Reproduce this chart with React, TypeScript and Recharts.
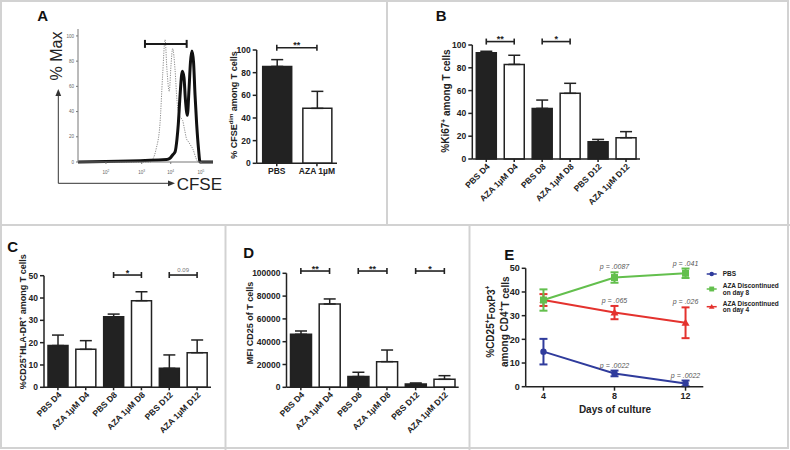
import React from "react";
import {
  Bar,
  BarChart,
  Cell,
  ErrorBar,
  Line,
  LineChart,
  ReferenceDot,
  ReferenceLine,
  XAxis,
  YAxis,
} from "recharts";

const FONT = "'Liberation Sans', Arial, Helvetica, sans-serif";
const INK = "#222";
const RULE = "#d2d2d2";
const BLUE = "#2f3b9c";
const GREEN = "#63bf4d";
const RED = "#e4322e";

// A: CFSE overlay, x in display channels (0..1000 over the biexponential axis), y in % of max
const histTickCh = [72, 207, 472, 687, 911];
const histTickExp = [0, 2, 3, 4, 5];
const pbsCurveCh = [0, 533, 553, 578, 607, 627, 645, 659, 676, 689, 701, 719, 733, 750, 763, 775, 789, 805, 819, 830, 852, 874, 891, 1000];
const pbsCurvePct = [0, 0, 2, 10, 30, 69, 97, 73, 56, 77, 90, 73, 49, 37, 35, 33, 26, 18, 16, 14, 10, 3, 0, 0];
const azaCurveCh = [0, 657, 681, 704, 719, 733, 743, 756, 773, 785, 796, 810, 822, 833, 844, 856, 867, 879, 893, 904, 1000];
const azaCurvePct = [0, 2, 3, 6, 8, 18, 30, 53, 72, 67, 49, 37, 57, 79, 88, 79, 53, 30, 10, 0, 0];
const gateCh = [496, 805];
const gatePct = 93.7;

// A: CFSE dim bars
const cfseGroups = ["PBS", "AZA 1µM"];
const cfseDim = [85.5, 48.5];
const cfseDimErr = [6, 15];

// B, C, D
const dayGroups = ["PBS D4", "AZA 1µM D4", "PBS D8", "AZA 1µM D8", "PBS D12", "AZA 1µM D12"];
const ki67 = [93.2, 83, 44.4, 57.6, 15.2, 18.7];
const ki67Err = [1.3, 8, 7.3, 8.8, 2, 5.3];
const hlaDr = [18.7, 17, 31.6, 38.8, 8.5, 15.5];
const hlaDrErr = [4.7, 3.9, 1.2, 4, 6, 5.7];
const cd25Mfi = [46500, 73100, 9400, 22500, 2900, 7000];
const cd25MfiErr = [2900, 4400, 3800, 10200, 900, 3200];

type Sig = { from: string; to: string; text: string };
const cfseSig: Sig[] = [{ from: "PBS", to: "AZA 1µM", text: "**" }];
const ki67Sig: Sig[] = [
  { from: "PBS D4", to: "AZA 1µM D4", text: "**" },
  { from: "PBS D8", to: "AZA 1µM D8", text: "*" },
];
const hlaDrSig: Sig[] = [
  { from: "PBS D8", to: "AZA 1µM D8", text: "*" },
  { from: "PBS D12", to: "AZA 1µM D12", text: "0.09" },
];
const cd25Sig: Sig[] = [
  { from: "PBS D4", to: "AZA 1µM D4", text: "**" },
  { from: "PBS D8", to: "AZA 1µM D8", text: "**" },
  { from: "PBS D12", to: "AZA 1µM D12", text: "*" },
];

// E
const cultureDays = [4, 8, 12];
const foxPbs = [14.8, 5.6, 1.4];
const foxPbsErr = [5.4, 1.2, 1.2];
const foxPbsP = ["", "p = .0022", "p = .0022"];
const foxAza8 = [36.6, 46.1, 47.9];
const foxAza8Err = [4.5, 2.2, 2];
const foxAza8P = ["", "p = .0087", "p = .041"];
const foxAza4 = [36.6, 31.3, 27];
const foxAza4Err = [2.5, 2.8, 6.5];
const foxAza4P = ["", "p = .065", "p = .026"];

const foxSeries = [
  { key: "pbs", name: ["PBS"], color: BLUE, mark: "circle", mean: foxPbs, err: foxPbsErr, p: foxPbsP },
  { key: "aza8", name: ["AZA Discontinued", "on day 8"], color: GREEN, mark: "square", mean: foxAza8, err: foxAza8Err, p: foxAza8P },
  { key: "aza4", name: ["AZA Discontinued", "on day 4"], color: RED, mark: "triangle", mean: foxAza4, err: foxAza4Err, p: foxAza4P },
];

const boldTick = { fontFamily: FONT, fontSize: 8.5, fontWeight: 700, fill: INK };

function Marker({ kind, cx, cy, color, s = 1 }: any) {
  if (kind === "square") return <rect x={cx - 3.5 * s} y={cy - 3.5 * s} width={7 * s} height={7 * s} fill={color} />;
  if (kind === "triangle")
    return <polygon points={`${cx},${cy - 4 * s} ${cx - 4 * s},${cy + 3 * s} ${cx + 4 * s},${cy + 3 * s}`} fill={color} />;
  return <circle cx={cx} cy={cy} r={3.2 * s} fill={color} />;
}

function bracket(text: string) {
  return (p: any) => {
    const { x1, y1, x2 } = p;
    const small = /\d/.test(text);
    return (
      <g>
        <line x1={x1} y1={y1} x2={x2} y2={y1} stroke={INK} strokeWidth={1.6} />
        <line x1={x1} y1={y1 - 3} x2={x1} y2={y1 + 3} stroke={INK} strokeWidth={1.6} />
        <line x1={x2} y1={y1 - 3} x2={x2} y2={y1 + 3} stroke={INK} strokeWidth={1.6} />
        <text
          x={(x1 + x2) / 2}
          y={small ? y1 - 3.5 : y1 + 0.5}
          textAnchor="middle"
          fontFamily={FONT}
          fontSize={small ? 6 : 9}
          fontWeight={small ? 400 : 700}
          fill={small ? "#777" : INK}
        >
          {text}
        </text>
      </g>
    );
  };
}

function SlantTick({ x, y, payload }: any) {
  return (
    <g transform={`translate(${x + 2},${y + 1}) rotate(-45)`}>
      <text textAnchor="end" dy="0.35em" {...boldTick}>
        {payload.value}
      </text>
    </g>
  );
}

function BarPanel({ left, top, width, height, margin, yWidth, cats, means, errs, domain, ticks, sig, sigY, barSize, slanted }: any) {
  const rows = cats.map((c: string, i: number) => ({ cat: c, v: means[i], e: [0, errs[i]] }));
  return (
    <div style={{ position: "absolute", left, top }}>
      <BarChart width={width} height={height} data={rows} margin={margin}>
        <XAxis
          dataKey="cat"
          interval={0}
          tickSize={3}
          height={slanted ? 50 : 16}
          stroke={INK}
          strokeWidth={1.5}
          tick={slanted ? <SlantTick /> : boldTick}
        />
        <YAxis domain={domain} ticks={ticks} interval={0} width={yWidth} tickSize={4} stroke={INK} strokeWidth={1.5} tick={boldTick} />
        <Bar dataKey="v" barSize={barSize} stroke={INK} strokeWidth={1.5} isAnimationActive={false}>
          {rows.map((r: any) => (
            <Cell key={r.cat} fill={r.cat.startsWith("PBS") ? INK : "#fff"} />
          ))}
          <ErrorBar dataKey="e" width={6} stroke={INK} strokeWidth={1.5} direction="y" isAnimationActive={false} />
        </Bar>
        {sig.map((s: Sig) => (
          <ReferenceLine
            key={s.from}
            segment={[
              { x: s.from, y: sigY },
              { x: s.to, y: sigY },
            ]}
            ifOverflow="visible"
            shape={bracket(s.text)}
          />
        ))}
      </BarChart>
    </div>
  );
}

function HistTick({ x, y, payload }: any) {
  const exp = histTickExp[histTickCh.indexOf(payload.value)];
  return (
    <text x={x} y={y + 8} textAnchor="middle" fontFamily={FONT} fontSize={4.5} fill="#666">
      {exp ? (
        <>
          10
          <tspan dy={-2} fontSize={3.2}>
            {exp}
          </tspan>
        </>
      ) : (
        "0"
      )}
    </text>
  );
}

const gateShape = (p: any) => (
  <g stroke="#1a1a1a" strokeWidth={2}>
    <line x1={p.x1} y1={p.y1} x2={p.x2} y2={p.y1} />
    <line x1={p.x1} y1={p.y1 - 4} x2={p.x1} y2={p.y1 + 4} />
    <line x1={p.x2} y1={p.y1 - 4} x2={p.x2} y2={p.y1 + 4} />
  </g>
);

function CfseHistogram() {
  const pbs = pbsCurveCh.map((ch, i) => ({ ch, pct: pbsCurvePct[i] }));
  const aza = azaCurveCh.map((ch, i) => ({ ch, pct: azaCurvePct[i] }));
  return (
    <div style={{ position: "absolute", left: 0, top: 0 }}>
      <LineChart width={230} height={200} margin={{ top: 29, right: 17, bottom: 26, left: 58 }}>
        <XAxis type="number" dataKey="ch" domain={[0, 1000]} ticks={histTickCh} tick={<HistTick />} height={12} tickSize={2} stroke="#777" />
        <XAxis xAxisId="box" orientation="top" type="number" domain={[0, 1000]} tick={false} tickLine={false} height={0} stroke="#777" />
        <YAxis
          type="number"
          domain={[0, 105.5]}
          ticks={[0, 20, 40, 60, 80, 100]}
          interval={0}
          width={20}
          tickSize={2}
          stroke="#777"
          tick={{ fontSize: 4.5, fill: "#666", fontFamily: FONT }}
        />
        <YAxis yAxisId="box" orientation="right" type="number" domain={[0, 1]} tick={false} tickLine={false} width={0} stroke="#777" />
        <Line data={pbs} dataKey="pct" type="monotone" stroke="#8c8c8c" strokeWidth={1} strokeDasharray="1.2 1.2" dot={false} activeDot={false} isAnimationActive={false} />
        <Line data={aza} dataKey="pct" type="monotone" stroke="#111" strokeWidth={3} dot={false} activeDot={false} isAnimationActive={false} />
        <ReferenceLine
          segment={[
            { x: gateCh[0], y: gatePct },
            { x: gateCh[1], y: gatePct },
          ]}
          ifOverflow="visible"
          shape={gateShape}
        />
      </LineChart>
    </div>
  );
}

function FoxP3Chart() {
  const rows = cultureDays.map((d, i) => {
    const r: any = { day: d };
    foxSeries.forEach((s) => {
      r[s.key] = s.mean[i];
      r[s.key + "E"] = s.err[i];
    });
    return r;
  });
  const drawOrder = [foxSeries[0], foxSeries[2], foxSeries[1]];
  return (
    <div style={{ position: "absolute", left: 470, top: 225 }}>
      <LineChart width={320} height={225} data={rows} margin={{ top: 43.3, right: 86.7, bottom: 43.3, left: 30.7 }}>
        <XAxis type="number" dataKey="day" domain={[3, 13]} ticks={cultureDays} interval={0} height={20} tickSize={4} stroke={INK} strokeWidth={1.5} tick={{ ...boldTick, fontSize: 9 }} />
        <YAxis domain={[0, 50]} ticks={[0, 10, 20, 30, 40, 50]} interval={0} width={25} tickSize={4} stroke={INK} strokeWidth={1.5} tick={{ ...boldTick, fontSize: 9 }} />
        {drawOrder.map((s) => (
          <Line
            key={s.key}
            dataKey={s.key}
            type="linear"
            stroke={s.color}
            strokeWidth={2}
            dot={(p: any) => <Marker key={`${s.key}-${p.index}`} kind={s.mark} cx={p.cx} cy={p.cy} color={s.color} />}
            activeDot={false}
            isAnimationActive={false}
          >
            <ErrorBar dataKey={s.key + "E"} width={4} stroke={s.color} strokeWidth={2} direction="y" isAnimationActive={false} />
          </Line>
        ))}
        {foxSeries.flatMap((s) =>
          s.p.map((t, i) =>
            t ? (
              <ReferenceDot
                key={`${s.key}-p${i}`}
                x={cultureDays[i]}
                y={s.mean[i] + s.err[i]}
                r={2}
                ifOverflow="visible"
                shape={(p: any) => (
                  <text x={p.cx} y={p.cy - 3} textAnchor="middle" fontFamily={FONT} fontSize={7} fontStyle="italic" fill="#555" stroke="none">
                    {t}
                  </text>
                )}
              />
            ) : null
          )
        )}
      </LineChart>
    </div>
  );
}

function RotText({ x, y, size, weight = 700, children }: any) {
  return (
    <text
      x={x}
      y={y}
      transform={`rotate(-90 ${x} ${y})`}
      textAnchor="middle"
      dominantBaseline="central"
      fontSize={size}
      fontWeight={weight}
      fill={INK}
      fontFamily={FONT}
    >
      {children}
    </text>
  );
}

function Overlay() {
  const letter = { fontFamily: FONT, fontSize: 15, fontWeight: 700, fill: "#111" };
  const legendY = [274, 289, 306.7];
  return (
    <svg width={790} height={450} style={{ position: "absolute", left: 0, top: 0, pointerEvents: "none" }}>
      <g stroke={RULE} strokeWidth={2} fill="none">
        <rect x={1} y={1} width={787} height={447} />
        <line x1={387} y1={0} x2={387} y2={225} />
        <line x1={0} y1={225} x2={790} y2={225} />
        <line x1={225.5} y1={225} x2={225.5} y2={450} />
        <line x1={469.5} y1={225} x2={469.5} y2={450} />
      </g>

      <text x={37.3} y={20.7} {...letter}>A</text>
      <text x={435.7} y={20.7} {...letter}>B</text>
      <text x={7.3} y={251.7} {...letter}>C</text>
      <text x={243.3} y={258.3} {...letter}>D</text>
      <text x={504.3} y={260} {...letter}>E</text>

      {/* histogram axis arrows */}
      <g stroke="#333" strokeWidth={1} fill="#333">
        <line x1={58.3} y1={183.3} x2={58.3} y2={94} />
        <polygon points="58.3,89 55.4,96 61.2,96" stroke="none" />
        <line x1={58.3} y1={183.3} x2={170} y2={183.3} />
        <polygon points="175,183.3 168,180.4 168,186.2" stroke="none" />
      </g>
      <RotText x={56} y={56} size={16} weight={400}>% Max</RotText>
      <text x={176.7} y={184.3} dominantBaseline="central" fontFamily={FONT} fontSize={17} fill={INK}>CFSE</text>

      <RotText x={234} y={105} size={9}>
        % CFSE<tspan dy={-3} fontSize={6}>dim</tspan><tspan dy={3}> among T cells</tspan>
      </RotText>
      <RotText x={445.5} y={101} size={10}>
        %Ki67<tspan dy={-3} fontSize={6.5}>+</tspan><tspan dy={3}> among T cells</tspan>
      </RotText>
      <RotText x={23.3} y={321.7} size={9}>
        %CD25<tspan dy={-3} fontSize={6}>+</tspan><tspan dy={3}>HLA-DR</tspan><tspan dy={-3} fontSize={6}>+</tspan><tspan dy={3}> among T cells</tspan>
      </RotText>
      <RotText x={249.7} y={323} size={9}>MFI CD25 of T cells</RotText>
      <RotText x={490.7} y={321.7} size={10}>
        %CD25<tspan dy={-3.5} fontSize={6.5}>+</tspan><tspan dy={3.5}>FoxP3</tspan><tspan dy={-3.5} fontSize={6.5}>+</tspan>
      </RotText>
      <RotText x={505} y={321.7} size={10}>
        among CD4<tspan dy={-3.5} fontSize={6.5}>+</tspan><tspan dy={3.5}>T cells</tspan>
      </RotText>
      <text x={615} y={409.3} textAnchor="middle" dominantBaseline="central" fontFamily={FONT} fontSize={10} fontWeight={700} fill={INK}>
        Days of culture
      </text>

      {foxSeries.map((s, i) => {
        const y = legendY[i];
        return (
          <g key={s.key}>
            <line x1={706.7} x2={716.7} y1={y} y2={y} stroke={s.color} strokeWidth={1.5} />
            <Marker kind={s.mark} cx={711.7} cy={y} color={s.color} s={0.7} />
            {s.name.map((ln, j) => (
              <text
                key={ln + j}
                x={722.7}
                y={y + 2.2 + (j - (s.name.length - 1) / 2) * 6.6}
                fontFamily={FONT}
                fontSize={6.5}
                fontWeight={700}
                fill={INK}
              >
                {ln}
              </text>
            ))}
          </g>
        );
      })}
    </svg>
  );
}

export default function App() {
  return (
    <div style={{ position: "absolute", left: 0, top: 0, width: 790, height: 450, background: "#fff", fontFamily: FONT, overflow: "hidden" }}>
      <CfseHistogram />
      <BarPanel
        left={200}
        top={0}
        width={150}
        height={200}
        margin={{ top: 50, right: 13, bottom: 20.7, left: 26.7 }}
        yWidth={30}
        cats={cfseGroups}
        means={cfseDim}
        errs={cfseDimErr}
        domain={[0, 100]}
        ticks={[0, 20, 40, 60, 80, 100]}
        sig={cfseSig}
        sigY={102}
        barSize={29}
        slanted={false}
      />
      <BarPanel
        left={395}
        top={0}
        width={260}
        height={225}
        margin={{ top: 45, right: 15, bottom: 16, left: 47.3 }}
        yWidth={30}
        cats={dayGroups}
        means={ki67}
        errs={ki67Err}
        domain={[0, 100]}
        ticks={[0, 20, 40, 60, 80, 100]}
        sig={ki67Sig}
        sigY={103}
        barSize={20}
        slanted
      />
      <BarPanel
        left={0}
        top={225}
        width={225}
        height={225}
        margin={{ top: 50.7, right: 14, bottom: 12.7, left: 14 }}
        yWidth={30}
        cats={dayGroups}
        means={hlaDr}
        errs={hlaDrErr}
        domain={[0, 50]}
        ticks={[0, 10, 20, 30, 40, 50]}
        sig={hlaDrSig}
        sigY={50.3}
        barSize={20}
        slanted
      />
      <BarPanel
        left={226}
        top={225}
        width={243}
        height={225}
        margin={{ top: 48.3, right: 10.3, bottom: 12.7, left: 15.5 }}
        yWidth={45}
        cats={dayGroups}
        means={cd25Mfi}
        errs={cd25MfiErr}
        domain={[0, 100000]}
        ticks={[0, 20000, 40000, 60000, 80000, 100000]}
        sig={cd25Sig}
        sigY={102000}
        barSize={21}
        slanted
      />
      <FoxP3Chart />
      <Overlay />
    </div>
  );
}
